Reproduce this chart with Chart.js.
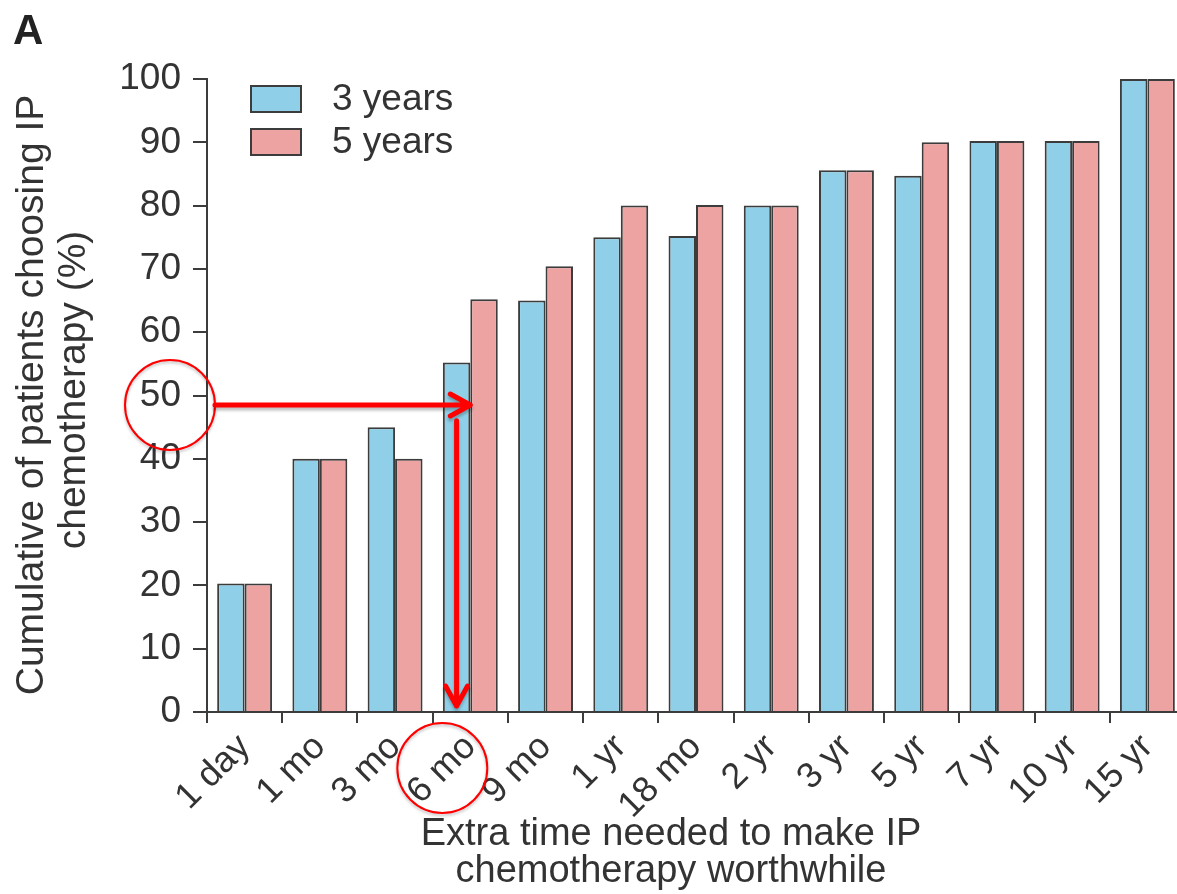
<!DOCTYPE html>
<html>
<head>
<meta charset="utf-8">
<script src="https://cdn.jsdelivr.net/npm/chart.js@4.4.1/dist/chart.umd.min.js"></script>
<style>
  html, body { margin: 0; padding: 0; background: #fff; overflow: hidden; }
  #wrap { width: 1190px; height: 894px; position: relative; }
</style>
</head>
<body>
<div id="wrap"><canvas id="chart"></canvas></div>
<script>
// values
const categories = ['1 day', '1 mo', '3 mo', '6 mo', '9 mo', '1 yr', '18 mo', '2 yr', '3 yr', '5 yr', '7 yr', '10 yr', '15 yr'];
const threeYears = [20.3, 40, 45, 55.2, 65, 75, 75.2, 80, 85.6, 84.7, 90.2, 90.2, 100];
const fiveYears = [20.3, 40, 40, 65.2, 70.4, 80, 80.1, 80, 85.6, 90, 90.2, 90.2, 100];
const seriesLabels = ['3 years', '5 years'];
const yTicks = [0, 10, 20, 30, 40, 50, 60, 70, 80, 90, 100];

const FONT = "'Liberation Sans', Arial, Helvetica, sans-serif";
const INK = '#333333';
const EDGE = '#3c3c3c';
const BLUE = '#8fd0e8';
const PINK = '#eea3a3';

// legend, axis titles, panel letter and red arrows
const overlay = {
  id: 'overlay',
  afterDraw(chart) {
    const ctx = chart.ctx;
    const x = chart.scales.x;
    const y = chart.scales.y;
    const area = chart.chartArea;
    ctx.save();

    ctx.fillStyle = '#222';
    ctx.font = 'bold 42px ' + FONT;
    ctx.textBaseline = 'alphabetic';
    ctx.textAlign = 'left';
    ctx.fillText('A', 13, 44);

    // legend
    chart.data.datasets.forEach((ds, i) => {
      const top = 85 + i * 43;
      ctx.fillStyle = ds.backgroundColor;
      ctx.fillRect(250, top, 52, 28);
      ctx.strokeStyle = EDGE;
      ctx.lineWidth = 2;
      ctx.strokeRect(251, top + 1, 50, 26);
      ctx.fillStyle = INK;
      ctx.font = '37px ' + FONT;
      ctx.textBaseline = 'middle';
      ctx.fillText(ds.label, 332, top + 15);
    });

    // axis titles
    ctx.fillStyle = INK;
    ctx.font = '38px ' + FONT;
    ctx.textAlign = 'center';
    ctx.textBaseline = 'alphabetic';
    ctx.fillText('Extra time needed to make IP', 671, 845);
    ctx.fillText('chemotherapy worthwhile', 671, 882);
    ctx.save();
    ctx.font = '39px ' + FONT;
    ctx.translate(0, 395);
    ctx.rotate(-Math.PI / 2);
    ctx.fillText('Cumulative of patients choosing IP', 0, 43);
    ctx.fillText('chemotherapy (%)', 5, 85);
    ctx.restore();

    // red annotations
    const yMark = y.getPixelForValue(48.5);
    const cx = x.getPixelForValue(3);
    const barW = chart.getDatasetMeta(0).data[3].width;
    const xDown = cx - barW / 2;
    ctx.strokeStyle = '#ff0000';
    ctx.lineCap = 'round';
    ctx.lineJoin = 'round';

    ctx.lineWidth = 2;
    ctx.shadowColor = 'rgba(0,0,0,0.25)';
    ctx.shadowBlur = 3;
    ctx.shadowOffsetY = 2;
    ctx.beginPath();
    ctx.arc(area.left - 37, yMark, 45, 0, Math.PI * 2);
    ctx.stroke();
    ctx.beginPath();
    ctx.arc(cx - 28, area.bottom + 56, 45, 0, Math.PI * 2);
    ctx.stroke();

    ctx.lineWidth = 5;
    ctx.shadowOffsetY = 3;
    ctx.beginPath();
    ctx.moveTo(area.left + 8, yMark);
    ctx.lineTo(cx, yMark);
    ctx.moveTo(cx - 20, yMark - 11);
    ctx.lineTo(cx, yMark);
    ctx.lineTo(cx - 20, yMark + 11);
    ctx.stroke();

    ctx.beginPath();
    ctx.moveTo(xDown, y.getPixelForValue(46));
    ctx.lineTo(xDown, area.bottom - 6);
    ctx.moveTo(xDown - 11, area.bottom - 26);
    ctx.lineTo(xDown, area.bottom - 6);
    ctx.lineTo(xDown + 11, area.bottom - 26);
    ctx.stroke();

    ctx.restore();
  }
};

new Chart(document.getElementById('chart'), {
  type: 'bar',
  data: {
    labels: categories,
    datasets: [
      {
        label: seriesLabels[0],
        data: threeYears,
        backgroundColor: BLUE,
        borderColor: EDGE,
        borderWidth: 2,
        categoryPercentage: 0.73,
        barPercentage: 1.0,
      },
      {
        label: seriesLabels[1],
        data: fiveYears,
        backgroundColor: PINK,
        borderColor: EDGE,
        borderWidth: 2,
        categoryPercentage: 0.73,
        barPercentage: 1.0,
      },
    ],
  },
  options: {
    responsive: true,
    maintainAspectRatio: false,
    animation: false,
    layout: { padding: { top: 79, right: 5, left: 0, bottom: 0 } },
    plugins: {
      legend: { display: false },
      tooltip: { enabled: false },
    },
    scales: {
      x: {
        grid: {
          offset: true,
          drawOnChartArea: false,
          drawTicks: true,
          tickLength: 11,
          color: EDGE,
          lineWidth: 2,
        },
        border: { display: true, color: EDGE, width: 2 },
        ticks: {
          color: INK,
          font: { family: FONT, size: 36 },
          maxRotation: 45,
          minRotation: 45,
          autoSkip: false,
          padding: 3,
        },
        afterFit(scale) { scale.height = 182; },
      },
      y: {
        min: 0,
        max: 100,
        afterBuildTicks(scale) { scale.ticks = yTicks.map((v) => ({ value: v })); },
        grid: {
          drawOnChartArea: false,
          drawTicks: true,
          tickLength: 14,
          color: EDGE,
          lineWidth: 2,
        },
        border: { display: true, color: EDGE, width: 2 },
        ticks: {
          color: INK,
          font: { family: FONT, size: 37 },
          padding: 12,
        },
        afterFit(scale) { scale.width = 207; },
      },
    },
  },
  plugins: [overlay],
});
</script>
</body>
</html>
